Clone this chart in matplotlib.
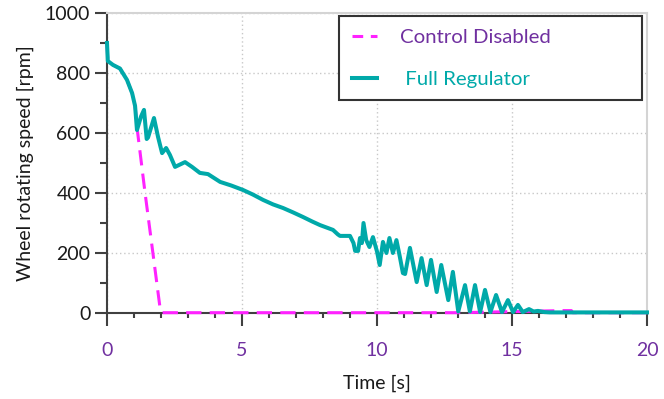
import matplotlib.pyplot as plt
from matplotlib.lines import Line2D
from matplotlib.ticker import MultipleLocator

# Wheel speed traces, time [s] vs speed [rpm]
reg_time = [0.00, 0.03, 0.22, 0.48, 0.74, 0.93, 1.04, 1.11, 1.26, 1.37, 1.47, 1.52,
            1.74, 1.89, 2.04, 2.19, 2.33, 2.52, 2.89, 3.15, 3.44, 3.74, 4.19, 4.60,
            5.04, 5.40, 5.78, 6.15, 6.52, 6.90, 7.26, 7.60, 7.89, 8.37, 8.55, 8.63,
            9.00, 9.13, 9.19, 9.30, 9.37, 9.44, 9.50, 9.60, 9.72, 9.85, 10.00, 10.10,
            10.22, 10.35, 10.46, 10.59, 10.72, 10.84, 10.96, 11.04, 11.22, 11.47, 11.65,
            11.84, 12.00, 12.21, 12.38, 12.64, 12.81, 13.01, 13.26, 13.44, 13.63, 13.82,
            14.00, 14.20, 14.41, 14.63, 14.85, 15.04, 15.22, 15.40, 15.63, 15.80, 15.96,
            16.20, 16.40, 17.00, 20.00]
reg_speed = [900, 840, 827, 815, 777, 733, 690, 610, 655, 677, 580, 585,
             650, 587, 533, 550, 527, 487, 503, 487, 467, 463, 437, 425,
             410, 395, 377, 362, 350, 335, 320, 305, 293, 277, 262, 257,
             257, 233, 207, 207, 250, 233, 300, 243, 220, 253, 205, 160,
             237, 200, 250, 200, 243, 190, 133, 130, 217, 103, 183,
             93, 177, 70, 160, 43, 137, 5, 93, 5, 93, 3,
             77, 3, 60, 3, 43, 3, 27, 3, 13, 5, 7,
             3, 2, 2, 2]

off_time = [0.00, 0.03, 0.22, 0.48, 0.74, 0.93, 1.04, 1.13, 1.41, 1.70, 1.96, 2.04,
            13.00, 16.90, 17.20, 17.25, 20.00]
off_speed = [900, 840, 827, 815, 777, 733, 690, 605, 400, 200, 20, 1,
             1, 8, 8, 1, 1]

labels = ["Control Disabled", " Full Regulator"]
x_ticks = [0, 5, 10, 15, 20]
y_ticks = [0, 200, 400, 600, 800, 1000]

MAGENTA = "#FF22FF"
TEAL = "#00A9A9"
PURPLE = "#7030A0"
DARK = "#404040"

plt.rcParams['font.family'] = ['Lato', 'DejaVu Sans']

fig = plt.figure(figsize=(6.64, 3.99), dpi=100)
ax = fig.add_axes([107 / 664, 86 / 399, 540 / 664, 300 / 399])

ax.plot(off_time, off_speed, color=MAGENTA, lw=2.2, dashes=(5, 2.7),
        clip_on=False, zorder=3)
ax.plot(reg_time, reg_speed, color=TEAL, lw=2.9, clip_on=False, zorder=4)

ax.set_xlim(0, 20)
ax.set_ylim(0, 1000)
ax.set_xticks(x_ticks)
ax.set_yticks(y_ticks)
ax.xaxis.set_minor_locator(MultipleLocator(1))
ax.yaxis.set_minor_locator(MultipleLocator(100))

ax.grid(True, which='major', linestyle=(0, (1, 2)), color='#C8C8C8', lw=1.0)
ax.set_axisbelow(True)

for side in ['left', 'bottom']:
    ax.spines[side].set_color(DARK)
    ax.spines[side].set_linewidth(1.5)
for side in ['top', 'right']:
    ax.spines[side].set_color('#D4D4D4')
    ax.spines[side].set_linewidth(1.5)

ax.tick_params(axis='both', which='major', direction='out', length=9,
               width=1.5, color=DARK)
ax.tick_params(axis='y', which='minor', direction='out', length=5,
               width=1.5, color=DARK)
ax.tick_params(axis='x', which='minor', direction='out', length=3.5,
               width=1.5, color=DARK)
ax.tick_params(axis='x', which='major', pad=12, labelsize=14,
               labelcolor=PURPLE)
ax.tick_params(axis='y', which='major', pad=3, labelsize=14,
               labelcolor='#1A1A1A')

ax.set_xlabel("Time [s]", fontsize=14, color='#1A1A1A', labelpad=11)
ax.set_ylabel("Wheel rotating speed [rpm]", fontsize=14, color='#1A1A1A',
              labelpad=8)

handles = [Line2D([], [], color=MAGENTA, lw=2.2, dashes=(3.5, 2.5)),
           Line2D([], [], color=TEAL, lw=2.9)]
leg = ax.legend(handles, labels, loc='upper left',
                bbox_to_anchor=(339 / 664, (399 - 108) / 399, 303 / 664, 92 / 399),
                bbox_transform=fig.transFigure, mode='expand', borderaxespad=0,
                fontsize=14.7, handlelength=1.25, handletextpad=1.1,
                labelspacing=1.2, borderpad=0.62, fancybox=False,
                labelcolor=[PURPLE, TEAL], framealpha=1)
leg.get_frame().set_edgecolor('#333333')
leg.get_frame().set_linewidth(1.5)

fig.savefig("out.png", dpi=100)
